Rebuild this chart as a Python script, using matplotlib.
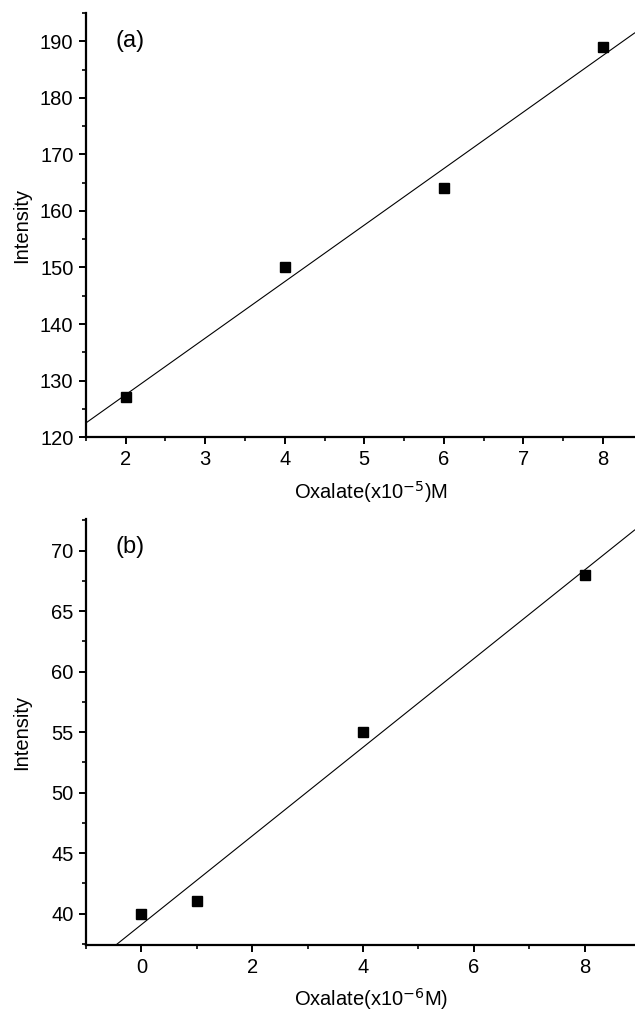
"""Oxalate calibration plots, two stacked panels."""
import matplotlib
matplotlib.use("Agg")
import matplotlib.pyplot as plt
from matplotlib.ticker import MultipleLocator
import numpy as np

plt.rcParams["font.family"] = ["Liberation Sans", "DejaVu Sans"]

# ── data ──
conc_a = [2, 4, 6, 8]
intensity_a = [127, 150, 164, 189]

conc_b = [0, 1, 4, 8]
intensity_b = [40, 41, 55, 68]

fig = plt.figure(figsize=(6.35, 10.14), dpi=100)
ax_a = fig.add_axes([0.1354, 0.569, 0.864, 0.418])
ax_b = fig.add_axes([0.1354, 0.068, 0.864, 0.420])


def style_axis(ax, xmajor, xminor, ymajor, yminor):
    for side in ("top", "right"):
        ax.spines[side].set_visible(False)
    for side in ("left", "bottom"):
        ax.spines[side].set_linewidth(1.6)
    ax.xaxis.set_major_locator(MultipleLocator(xmajor))
    ax.xaxis.set_minor_locator(MultipleLocator(xminor))
    ax.yaxis.set_major_locator(MultipleLocator(ymajor))
    ax.yaxis.set_minor_locator(MultipleLocator(yminor))
    ax.tick_params(which="major", direction="out", length=5, width=1.4,
                   labelsize=14.5, pad=4)
    ax.tick_params(which="minor", direction="out", length=3, width=1.2)
    ax.set_ylabel("Intensity", fontsize=14.5)
    ax.yaxis.set_label_coords(-0.1, 0.5)


def panel(ax, x, y, xlim, ylim, tag, xlabel):
    x = np.asarray(x, dtype=float)
    y = np.asarray(y, dtype=float)
    slope, icpt = np.polyfit(x, y, 1)
    xs = np.array(xlim)
    ax.plot(xs, slope * xs + icpt, color="black", lw=0.8)
    ax.plot(x, y, "s", color="black", ms=6.5, clip_on=False)
    ax.set_xlim(*xlim)
    ax.set_ylim(*ylim)
    ax.text(0.053, 0.935, tag, transform=ax.transAxes, fontsize=17,
            ha="left", va="center")
    ax.set_xlabel(xlabel, fontsize=14.5)


panel(ax_a, conc_a, intensity_a, (1.5, 8.4), (120, 195), "(a)",
      "Oxalate(x10$^{-5}$)M")
style_axis(ax_a, 1, 0.5, 10, 5)
ax_a.xaxis.set_label_coords(0.52, -0.1)

panel(ax_b, conc_b, intensity_b, (-1.0, 8.9), (37.4, 72.6), "(b)",
      "Oxalate(x10$^{-6}$M)")
style_axis(ax_b, 2, 1, 5, 2.5)
ax_b.xaxis.set_label_coords(0.52, -0.097)

fig.savefig("out.png", dpi=100, facecolor="white")
